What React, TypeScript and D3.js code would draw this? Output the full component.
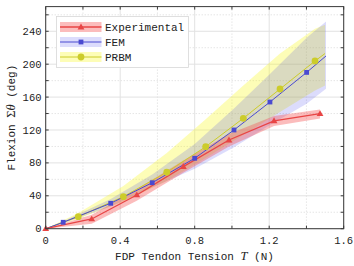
import React from "react";
import * as d3 from "d3";

// ---- Data ----
const expT = [0, 0.247, 0.489, 0.739, 0.984, 1.226, 1.473];
const expV = [0, 11.8, 41, 75.4, 107.8, 131, 139.8];
const expUpper = [0, 17, 48, 83, 115, 137, 145];
const expLower = [0, 6, 34, 68, 100, 125, 134];

const femT = [0, 0.094, 0.349, 0.572, 0.8, 1.011, 1.204, 1.401, 1.505];
const femV = [0, 7.8, 30.9, 55.9, 85.6, 120, 154, 190, 210];
const femUpper = [0, 9, 36, 66, 103, 146, 188, 232, 252];
const femLower = [0, 6.5, 27, 50, 73, 99, 126, 152, 170];
const femMarkers = [1, 2, 3, 4, 5, 6, 7];

const prbmT = [0, 0.175, 0.417, 0.65, 0.859, 1.061, 1.258, 1.446, 1.5];
const prbmV = [0, 14.6, 38.9, 68.6, 99.7, 134.2, 169.8, 203.9, 213];
const prbmUpper = [0, 19, 52, 92, 133, 174, 213, 243, 248];
const prbmLower = [0, 12, 33, 58, 86, 114, 142, 168, 174];
const prbmMarkers = [1, 2, 3, 4, 5, 6, 7];

const xTicks = [0, 0.4, 0.8, 1.2, 1.6];
const xMinor = [0.2, 0.6, 1.0, 1.4];
const yTicks = [0, 40, 80, 120, 160, 200, 240];
const yMinor = [20, 60, 100, 140, 180, 220, 260];

const legendLabels = ["Experimental", "FEM", "PRBM"];

const W = 354;
const H = 266;
const L = 45.7, R = 343.7, B = 228.7, T = 6.6;

const RED = "#e84545";
const RED_BAND = "rgba(245,80,80,0.38)";
const BLUE = "#4a4ad0";
const BLUE_BAND = "rgba(50,50,240,0.17)";
const YEL = "#cccc2a";
const YEL_BAND = "rgba(250,250,30,0.32)";
const MONO = "'Liberation Mono', 'DejaVu Sans Mono', monospace";

export default function App() {
  const x = d3.scaleLinear().domain([0, 1.6]).range([L, R]);
  const y = d3.scaleLinear().domain([0, 270]).range([B, T]);

  const band = (ts: number[], up: number[], lo: number[]) =>
    d3
      .area<number>()
      .x((_, i) => x(ts[i]))
      .y0((_, i) => y(lo[i]))
      .y1((_, i) => y(up[i]))(ts) as string;
  const line = (ts: number[], vs: number[]) =>
    d3
      .line<number>()
      .x((_, i) => x(ts[i]))
      .y((_, i) => y(vs[i]))(ts) as string;

  const tri = (cx: number, cy: number, s = 3.4) =>
    `M${cx},${cy - s * 1.05} L${cx + s},${cy + s * 0.7} L${cx - s},${cy + s * 0.7} Z`;

  const legendX = 56.5, legendY = 16.5;
  const rows = [27, 42, 57];

  return (
    <svg width={W} height={H} style={{ position: "absolute", left: 0, top: 0, background: "#fff" }}>
      {/* grid */}
      {xMinor.map((t) => (
        <line key={"xm" + t} x1={x(t)} x2={x(t)} y1={T} y2={B} stroke="#cfcfcf" strokeWidth={0.8} strokeDasharray="1,2" />
      ))}
      {yMinor.map((t) => (
        <line key={"ym" + t} x1={L} x2={R} y1={y(t)} y2={y(t)} stroke="#cfcfcf" strokeWidth={0.8} strokeDasharray="1,2" />
      ))}
      {xTicks.map((t) => (
        <line key={"xg" + t} x1={x(t)} x2={x(t)} y1={T} y2={B} stroke="#e2e2e2" strokeWidth={1} />
      ))}
      {yTicks.map((t) => (
        <line key={"yg" + t} x1={L} x2={R} y1={y(t)} y2={y(t)} stroke="#e2e2e2" strokeWidth={1} />
      ))}

      {/* bands */}
      <path d={band(prbmT, prbmUpper, prbmLower)} fill={YEL_BAND} />
      <path d={band(femT, femUpper, femLower)} fill={BLUE_BAND} />
      <path d={band(expT, expUpper, expLower)} fill={RED_BAND} />

      {/* lines */}
      <path d={line(prbmT, prbmV)} fill="none" stroke={YEL} strokeWidth={1} />
      <path d={line(femT, femV)} fill="none" stroke={BLUE} strokeWidth={1} />
      <path d={line(expT, expV)} fill="none" stroke={RED} strokeWidth={1.3} />

      {/* markers */}
      {prbmMarkers.map((i) => (
        <circle key={"pc" + i} cx={x(prbmT[i])} cy={y(prbmV[i])} r={3.4} fill={YEL} />
      ))}
      {femMarkers.map((i) => (
        <rect key={"fr" + i} x={x(femT[i]) - 2.4} y={y(femV[i]) - 2.4} width={4.8} height={4.8} fill={BLUE} />
      ))}
      {expT.map((t, i) => (
        <path key={"et" + i} d={tri(x(t), y(expV[i]))} fill={RED} />
      ))}

      {/* frame */}
      <rect x={L} y={T} width={R - L} height={B - T} fill="none" stroke="#3a3a3a" strokeWidth={1} />
      {/* ticks inward */}
      {[...xTicks, ...xMinor].map((t) => (
        <g key={"xt" + t}>
          <line x1={x(t)} x2={x(t)} y1={B} y2={B - 3} stroke="#3a3a3a" />
          <line x1={x(t)} x2={x(t)} y1={T} y2={T + 3} stroke="#3a3a3a" />
        </g>
      ))}
      {[...yTicks, ...yMinor].map((t) => (
        <g key={"yt" + t}>
          <line x1={L} x2={L + 3} y1={y(t)} y2={y(t)} stroke="#3a3a3a" />
          <line x1={R} x2={R - 3} y1={y(t)} y2={y(t)} stroke="#3a3a3a" />
        </g>
      ))}

      {/* tick labels */}
      {xTicks.map((t) => (
        <text key={"xl" + t} x={x(t)} y={243.5} textAnchor="middle" fontFamily={MONO} fontSize={10.5} fill="#222">
          {t === 0 ? "0" : t.toFixed(1)}
        </text>
      ))}
      {yTicks.map((t) => (
        <text key={"yl" + t} x={41.5} y={y(t) + 3.6} textAnchor="end" fontFamily={MONO} fontSize={10.5} fill="#222">
          {t}
        </text>
      ))}

      {/* axis titles */}
      <text x={194.5} y={260} textAnchor="middle" fontFamily={MONO} fontSize={11} fill="#222">
        FDP Tendon Tension{" "}
        <tspan fontFamily="'Liberation Serif', serif" fontStyle="italic" fontSize={12.5}>T</tspan> (N)
      </text>
      <text
        transform={`translate(14.5, ${(T + B) / 2}) rotate(-90)`}
        textAnchor="middle"
        fontFamily={MONO}
        fontSize={11}
        fill="#222"
      >
        Flexion{" "}
        <tspan fontFamily="'Liberation Serif', serif" fontSize={12.5}>Σ</tspan>
        <tspan fontFamily="'Liberation Serif', serif" fontStyle="italic" fontSize={12.5}>θ</tspan> (deg)
      </text>

      {/* legend */}
      <rect x={legendX} y={legendY} width={132} height={51} fill="#fff" stroke="#d8d8d8" strokeWidth={0.8} />
      {legendLabels.map((lab, k) => {
        const cy = rows[k];
        const bandFill = [RED_BAND, BLUE_BAND, YEL_BAND][k];
        const col = [RED, BLUE, YEL][k];
        return (
          <g key={lab}>
            <rect x={60} y={cy - 5} width={41.5} height={10} fill={bandFill} />
            <line x1={60} x2={101.5} y1={cy} y2={cy} stroke={col} strokeWidth={k === 0 ? 1.3 : 1} />
            {k === 0 && <path d={tri(81, cy)} fill={col} />}
            {k === 1 && <rect x={81 - 2.4} y={cy - 2.4} width={4.8} height={4.8} fill={col} />}
            {k === 2 && <circle cx={81} cy={cy} r={3.4} fill={col} />}
            <text x={105} y={cy + 3.8} fontFamily={MONO} fontSize={11} fill="#222">
              {lab}
            </text>
          </g>
        );
      })}
    </svg>
  );
}
